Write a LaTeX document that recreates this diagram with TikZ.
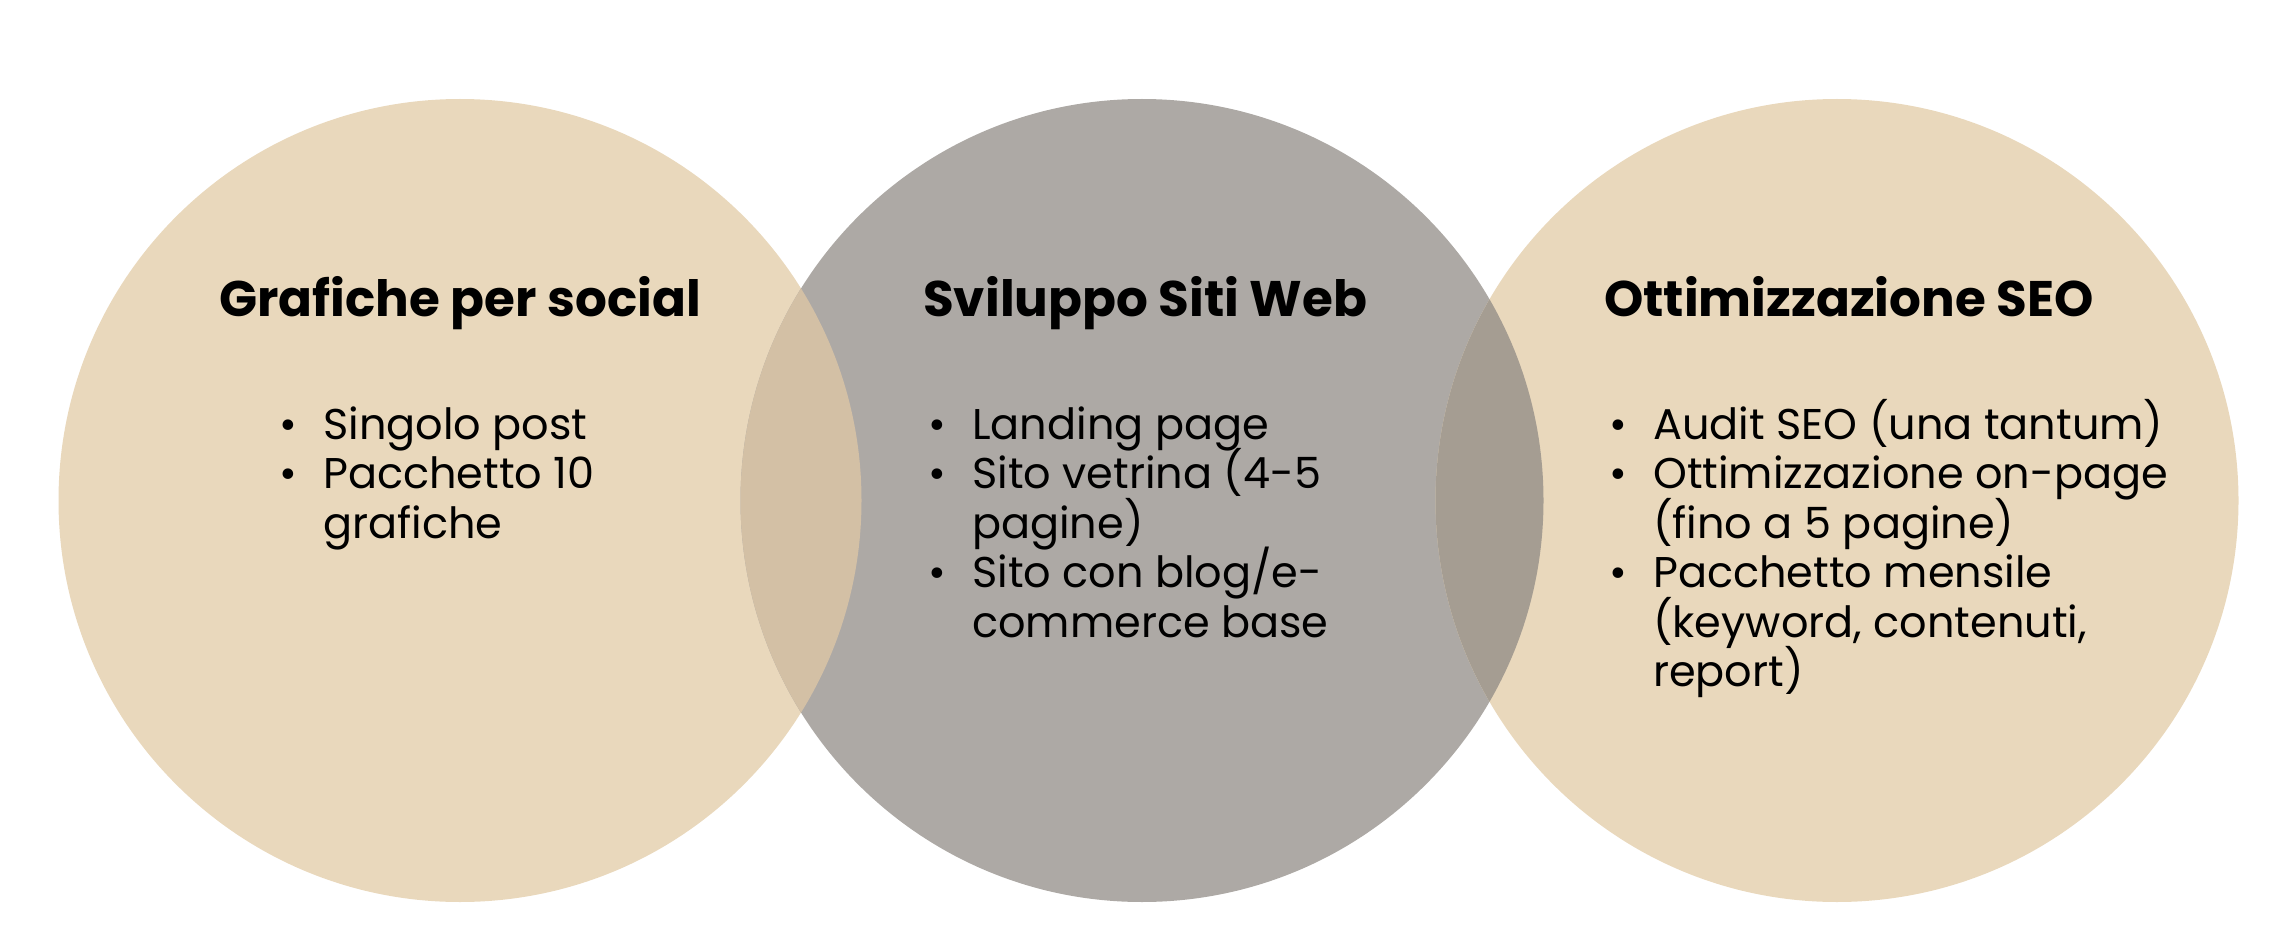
\documentclass[tikz,border=0pt]{standalone}
\usepackage{fontspec}
\setmainfont{Poppins}
\usepackage{tikz}
\usetikzlibrary{positioning}
\definecolor{beige}{HTML}{E9D8BC}
\definecolor{grigio}{HTML}{ADA9A5}
\definecolor{sovrsx}{HTML}{D3C0A5}
\definecolor{sovrdx}{HTML}{A59D92}
\newcommand{\fontelenco}{\fontsize{43}{49.5}\selectfont\setlength{\lineskiplimit}{-100pt}\relax}
\tikzstyle{cb} = [circle, fill=beige, minimum size=803pt, inner sep=0pt]
\tikzstyle{cg} = [circle, fill=grigio, minimum size=803pt, inner sep=0pt]
\tikzstyle{tit} = [anchor=base west, inner sep=0pt,
    font=\fontsize{50}{56}\selectfont\bfseries]
% la base del nodo e' quella dell'ultima riga
\tikzstyle{lst} = [anchor=base west, inner sep=0pt, align=left,
    font=\fontelenco]
\newcommand{\voce}{\makebox[44pt][l]{\textbullet}}
\newcommand{\rientro}{\makebox[44pt]{}}

\begin{document}
\begin{tikzpicture}[x=1pt,y=-1pt]
  \useasboundingbox (0,0) rectangle (2284,928);

  % i tre cerchi
  \node[cb] (grafiche) at (460,500.5)  {};
  \node[cg] (siti)     at (1142,500.5) {};
  \node[cb] (seo)      at (1837,500.5) {};

  % zone di sovrapposizione
  \begin{scope}
    \clip (grafiche.center) circle (401.5);
    \fill[sovrsx] (siti.center) circle (401.5);
  \end{scope}
  \begin{scope}
    \clip (seo.center) circle (401.5);
    \fill[sovrdx] (siti.center) circle (401.5);
  \end{scope}

  % titoli
  \node[tit] (tgrafiche) at (219,316)  {Grafiche per social};
  \node[tit] (tsiti)     at (923,316)  {Sviluppo Siti Web};
  \node[tit] (tseo)      at (1604,316) {Ottimizzazione SEO};

  % elenchi (prima riga a y=439)
  \node[lst] (lgrafiche) at (279,538) {%
    \voce Singolo post\\
    \voce Pacchetto 10\\
    \rientro grafiche};
  \node[lst] (lsiti) at (928,637) {%
    \voce Landing page\\
    \voce Sito vetrina (4-5\\
    \rientro pagine)\\
    \voce Sito con blog/e-\\
    \rientro commerce base};
  \node[lst] (lseo) at (1609,686.5) {%
    \voce Audit SEO (una tantum)\\
    \voce Ottimizzazione on-page\\
    \rientro (fino a 5 pagine)\\
    \voce Pacchetto mensile\\
    \rientro (keyword, contenuti,\\
    \rientro report)};
\end{tikzpicture}
\end{document}
